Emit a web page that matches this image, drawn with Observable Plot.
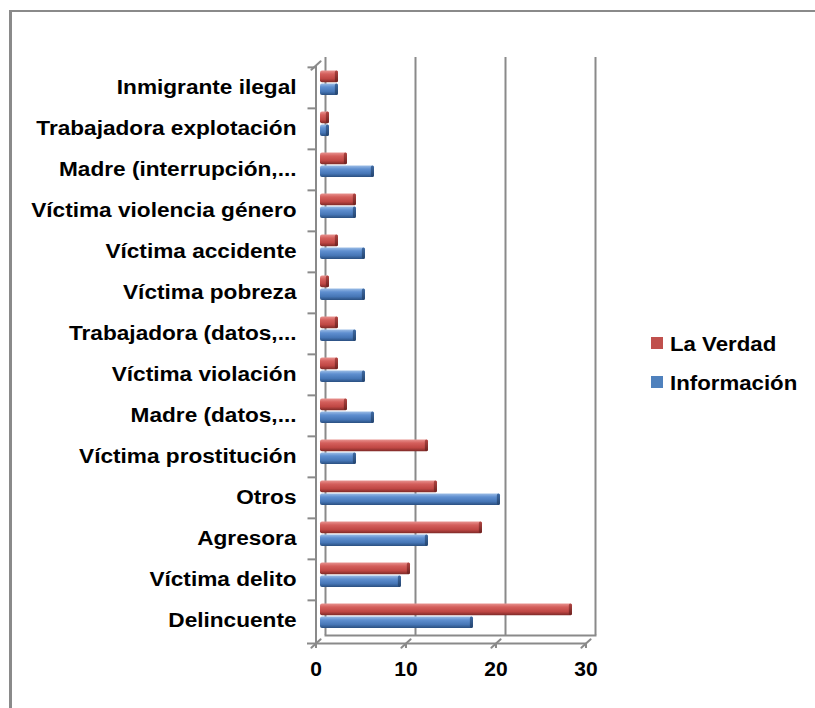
<!DOCTYPE html>
<html>
<head>
<meta charset="utf-8">
<script src="https://cdn.jsdelivr.net/npm/d3@7"></script>
<script src="https://cdn.jsdelivr.net/npm/@observablehq/plot@0.6"></script>
<style>
  html, body { margin: 0; padding: 0; background: #fff; }
  #wrap { position: relative; width: 815px; height: 708px; overflow: hidden; font-family: "Liberation Sans", Arial, sans-serif; }
  #border { position: absolute; left: 9px; top: 10px; width: 900px; height: 800px; border-top: 2px solid #8a8a8a; border-left: 3px solid #8a8a8a; }
  #chart { position: absolute; left: 0; top: 0; }
  .leg { position: absolute; left: 651px; font-size: 19.5px; font-weight: bold; line-height: 20px; color: #000; white-space: nowrap; }
  .leg span.sw { position: absolute; left: 0; top: 3px; width: 12px; height: 12px; }
  .leg span.tx { position: absolute; left: 19px; top: 0; transform: scaleX(1.14); transform-origin: 0 0; }
</style>
</head>
<body>
<div id="wrap">
  <div id="border"></div>
  <div id="chart"></div>
  <div id="legend"></div>
</div>
<script>
// Categories, top to bottom
const categories = [
  "Inmigrante ilegal",
  "Trabajadora explotación",
  "Madre (interrupción,...",
  "Víctima violencia género",
  "Víctima accidente",
  "Víctima pobreza",
  "Trabajadora (datos,...",
  "Víctima violación",
  "Madre (datos,...",
  "Víctima prostitución",
  "Otros",
  "Agresora",
  "Víctima delito",
  "Delincuente"
];
const seriesNames = ["La Verdad", "Información"];
const laVerdad    = [2, 1, 3, 4, 2, 1, 2, 2, 3, 12, 13, 18, 10, 28];
const informacion = [2, 1, 6, 4, 5, 5, 4, 5, 6, 4, 20, 12, 9, 17];
const xTicks = [0, 10, 20, 30];
const seriesColors = ["#c0504d", "#4f81bd"];

const redData = categories.map((c, i) => ({cat: c, serie: seriesNames[0], value: laVerdad[i]}));
const blueData = categories.map((c, i) => ({cat: c, serie: seriesNames[1], value: informacion[i]}));

const grey = "#8a8a8a";
const bw = (643 - 65) / categories.length;

const plot = Plot.plot({
  width: 815,
  height: 708,
  marginLeft: 320,
  marginRight: 225,
  marginTop: 65,
  marginBottom: 65,
  x: {domain: [0, 30]},
  y: {domain: categories, padding: 0},
  style: {fontFamily: "'Liberation Sans', Arial, sans-serif", color: "black", background: "transparent", overflow: "visible"},
  marks: [
    // back wall gridlines
    Plot.ruleX(xTicks, {dx: 5, dy: -8, stroke: grey, strokeWidth: 2}),
    // back floor line
    Plot.frame({anchor: "bottom", dx: 5, dy: -8, stroke: grey, strokeWidth: 2}),
    // floor slants
    Plot.vector(xTicks, {x: d => d, frameAnchor: "bottom", dx: -4.5, length: 12.5, rotate: 48, shape: "spike", r: 0.01, stroke: grey, strokeWidth: 2, fill: "none"}),
    Plot.vector([0], {x: d => d, frameAnchor: "top", dx: -4.5, length: 12.5, rotate: 48, shape: "spike", r: 0.01, stroke: grey, strokeWidth: 2, fill: "none"}),
    // front y axis line
    Plot.ruleX([0], {dx: -4.5, stroke: grey, strokeWidth: 2}),
    // front x axis line
    Plot.frame({anchor: "bottom", dx: -4.5, insetLeft: -8, stroke: grey, strokeWidth: 2}),
    // x axis
    Plot.axisX({ticks: xTicks, tickSize: 5, tickPadding: 14, dx: -4.5, stroke: grey, strokeWidth: 2, fill: "black", fontSize: 19.5, fontWeight: "bold", label: null}),
    // y axis ticks at band boundaries
    Plot.axisY({tickSize: 8, tickFormat: () => "", dx: -4.5, dy: -bw / 2, stroke: grey, strokeWidth: 2, label: null}),
    // y axis labels
    Plot.axisY({tickSize: 0, tickPadding: 24, fontSize: 19.5, fontWeight: "bold", fill: "black", label: null}),
    // bars
    Plot.barX(redData, {y: "cat", x: "value", insetTop: 3.5, insetBottom: bw - 15.5, fill: "url(#gRed)", rx: 2}),
    Plot.barX(redData, {y: "cat", x1: d => d.value - 0.35, x2: "value", insetTop: 3.5, insetBottom: bw - 15.5, fill: "url(#gRedCap)", rx: 2}),
    Plot.barX(blueData, {y: "cat", x: "value", insetTop: 16.5, insetBottom: bw - 28.3, fill: "url(#gBlue)", rx: 2}),
    Plot.barX(blueData, {y: "cat", x1: d => d.value - 0.35, x2: "value", insetTop: 16.5, insetBottom: bw - 28.3, fill: "url(#gBlueCap)", rx: 2})
  ]
});

plot.insertAdjacentHTML("afterbegin", `
<defs>
  <linearGradient id="gRed" x1="0" y1="0" x2="0" y2="1">
    <stop offset="0" stop-color="#e89390"/>
    <stop offset="0.3" stop-color="#d45f5c"/>
    <stop offset="0.7" stop-color="#bf4744"/>
    <stop offset="1" stop-color="#7e2a28"/>
  </linearGradient>
  <linearGradient id="gRedCap" x1="0" y1="0" x2="0" y2="1">
    <stop offset="0" stop-color="#b04542"/>
    <stop offset="1" stop-color="#6e2220"/>
  </linearGradient>
  <linearGradient id="gBlue" x1="0" y1="0" x2="0" y2="1">
    <stop offset="0" stop-color="#9cbde6"/>
    <stop offset="0.3" stop-color="#5f8fd0"/>
    <stop offset="0.7" stop-color="#4676b6"/>
    <stop offset="1" stop-color="#2a4f80"/>
  </linearGradient>
  <linearGradient id="gBlueCap" x1="0" y1="0" x2="0" y2="1">
    <stop offset="0" stop-color="#3f6aa3"/>
    <stop offset="1" stop-color="#24446e"/>
  </linearGradient>
</defs>`);

document.getElementById("chart").appendChild(plot);

// widen glyphs like the original rendering
function stretch(selector, factor) {
  plot.querySelectorAll(selector).forEach(t => {
    const len = t.getComputedTextLength();
    if (len > 0) {
      t.setAttribute("textLength", (len * factor).toFixed(1));
      t.setAttribute("lengthAdjust", "spacingAndGlyphs");
    }
  });
}
stretch('g[aria-label="y-axis tick label"] text', 1.16);
stretch('g[aria-label="x-axis tick label"] text', 1.08);

// legend
const legend = document.getElementById("legend");
const legendTops = [334, 373];
seriesNames.forEach((name, i) => {
  const d = document.createElement("div");
  d.className = "leg";
  d.style.top = legendTops[i] + "px";
  d.innerHTML = `<span class="sw" style="background:${seriesColors[i]}"></span><span class="tx">${name}</span>`;
  legend.appendChild(d);
});
</script>
</body>
</html>
